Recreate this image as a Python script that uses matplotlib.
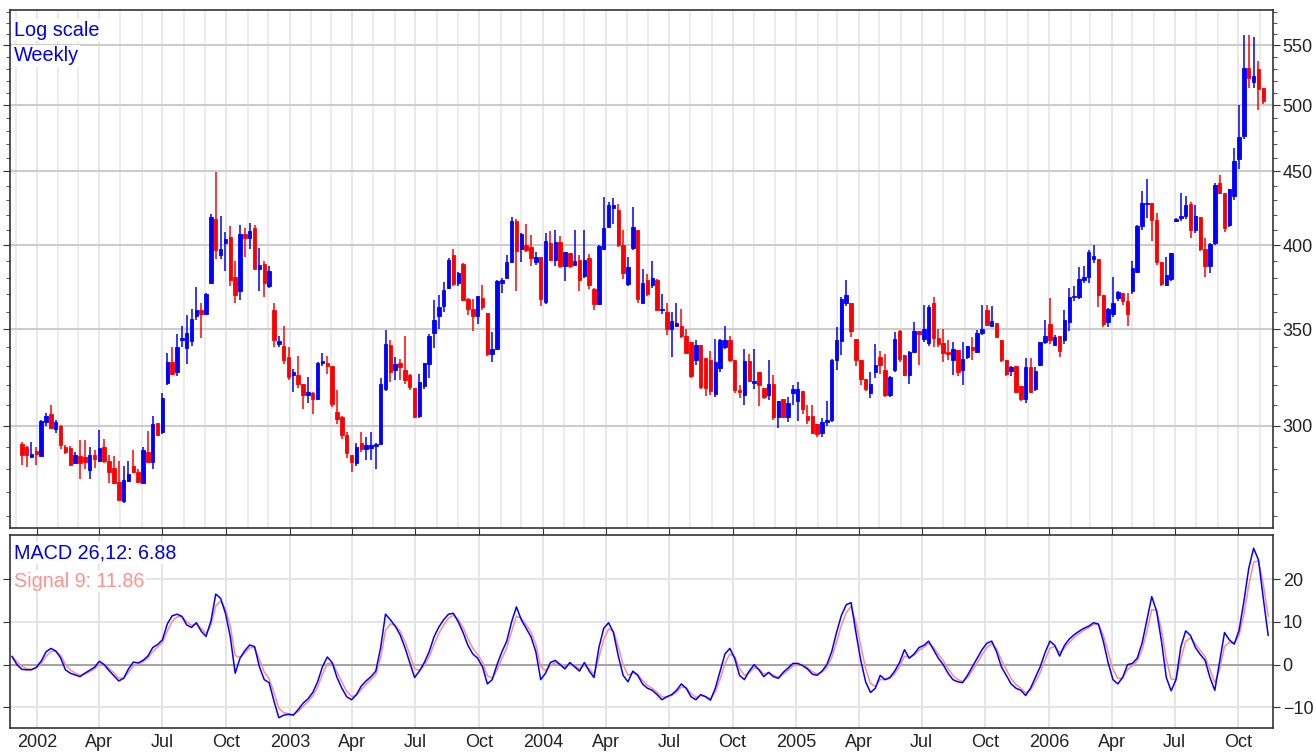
import matplotlib
matplotlib.use('Agg')
import matplotlib.pyplot as plt
import matplotlib.dates as mdates
import matplotlib.ticker as mticker
import numpy as np
import pandas as pd

plt.rcParams['font.family'] = ['Liberation Sans', 'DejaVu Sans']

# weekly candles, first week starting 2001-12-10
first_week = '2001-12-10'
opens = [
    291.4, 290.0, 285.5, 288.3, 286.2, 302.0, 305.8, 298.4, 300.0, 290.0,
    289.5, 283.0, 286.0, 285.7, 279.8, 286.3, 283.9, 290.0, 283.9, 280.6,
    274.6, 266.0, 275.0, 281.5, 278.6, 274.0, 287.6, 283.4, 301.3, 297.0,
    321.3, 332.3, 327.0, 344.0, 339.6, 343.3, 357.7, 360.7, 358.4, 376.6,
    417.0, 394.2, 401.7, 405.2, 380.2, 372.0, 407.3, 404.6, 411.0, 385.4,
    388.2, 375.0, 360.7, 342.0, 341.0, 335.0, 325.5, 325.3, 320.7, 315.0,
    316.0, 313.0, 331.5, 331.5, 330.0, 307.0, 304.5, 295.5, 286.5, 282.6,
    292.0, 289.3, 289.6, 290.5, 291.6, 318.0, 341.5, 328.0, 331.5, 328.0,
    325.3, 318.5, 304.8, 319.5, 331.0, 348.0, 357.6, 363.4, 373.7, 393.8,
    376.5, 388.5, 367.2, 361.5, 357.2, 367.8, 359.2, 336.6, 339.3, 377.0,
    380.0, 389.4, 416.0, 397.6, 400.0, 399.0, 389.6, 392.5, 365.4, 401.8,
    390.7, 402.0, 387.2, 395.4, 388.0, 390.6, 381.0, 392.0, 373.0, 364.2,
    397.6, 411.8, 424.6, 423.5, 400.0, 376.0, 398.4, 410.0, 365.0, 378.6,
    375.7, 378.6, 360.6, 359.5, 350.4, 352.0, 352.0, 346.0, 342.7, 333.1,
    341.3, 334.4, 333.0, 315.7, 329.0, 340.3, 343.9, 333.1, 317.6, 315.2,
    332.8, 321.4, 327.2, 318.7, 315.0, 321.0, 304.2, 313.0, 304.2, 316.0,
    312.0, 317.0, 305.0, 305.0, 301.0, 296.5, 302.0, 303.0, 333.5, 343.5,
    365.0, 365.0, 344.5, 333.5, 323.5, 316.0, 326.7, 334.6, 328.0, 315.0,
    328.0, 348.8, 335.7, 325.3, 337.3, 349.0, 344.7, 342.3, 364.8, 345.2,
    342.5, 337.5, 333.1, 338.8, 328.0, 334.8, 340.0, 337.5, 347.7, 361.0,
    352.0, 353.7, 344.0, 333.5, 327.5, 330.0, 319.7, 313.0, 329.3, 318.0,
    330.5, 343.0, 352.7, 341.5, 346.0, 343.9, 354.0, 368.2, 368.5, 378.6,
    380.3, 391.5, 391.5, 369.4, 354.0, 358.5, 367.8, 370.5, 366.0, 371.8,
    383.6, 412.6, 427.0, 428.0, 416.4, 389.3, 375.4, 379.2, 416.0, 418.0,
    419.3, 427.5, 410.0, 418.6, 397.6, 387.2, 401.7, 442.0, 435.0, 413.2,
    433.0, 459.0, 476.0, 530.7, 519.0, 529.4, 514.0,
]
highs = [
    292.6, 290.5, 292.6, 290.0, 303.0, 306.5, 310.0, 303.0, 300.3, 291.0,
    290.6, 288.0, 293.4, 293.4, 290.0, 288.8, 298.1, 294.0, 286.5, 286.0,
    283.5, 281.5, 283.5, 288.8, 280.0, 290.0, 297.4, 305.0, 301.6, 316.0,
    337.0, 340.0, 347.6, 352.0, 358.0, 361.5, 374.6, 364.8, 370.7, 420.3,
    449.8, 419.3, 408.4, 412.8, 390.4, 413.3, 411.2, 414.8, 413.0, 398.6,
    390.4, 387.0, 364.8, 346.0, 352.0, 340.0, 328.5, 335.5, 320.7, 324.4,
    316.6, 332.0, 337.0, 335.5, 330.0, 317.6, 305.0, 297.0, 286.5, 292.0,
    297.0, 295.0, 297.0, 292.0, 323.6, 349.7, 344.0, 335.0, 334.0, 346.3,
    326.0, 318.5, 326.0, 331.5, 347.6, 366.4, 369.5, 377.5, 392.0, 397.8,
    383.5, 389.0, 368.0, 367.0, 369.0, 375.7, 359.2, 348.7, 378.5, 380.0,
    394.0, 418.2, 417.0, 407.8, 413.6, 407.0, 396.0, 392.5, 407.8, 409.3,
    409.7, 406.0, 396.0, 395.4, 410.0, 393.7, 410.0, 394.4, 374.0, 400.0,
    432.0, 428.6, 431.5, 427.0, 410.0, 392.5, 425.0, 410.0, 385.0, 382.0,
    390.0, 379.0, 370.3, 364.8, 360.0, 365.0, 361.5, 350.4, 342.7, 343.9,
    341.3, 334.4, 338.0, 344.6, 344.5, 352.0, 346.3, 333.1, 320.0, 339.0,
    336.5, 339.0, 327.2, 318.7, 333.0, 325.3, 312.0, 313.0, 314.0, 320.0,
    322.0, 317.0, 310.0, 310.0, 301.0, 304.0, 312.0, 334.0, 351.0, 368.5,
    378.6, 365.0, 344.5, 333.5, 323.5, 327.0, 341.8, 338.0, 336.5, 324.8,
    348.6, 349.7, 335.7, 338.0, 354.0, 349.0, 364.0, 363.5, 368.5, 350.4,
    350.4, 343.9, 342.9, 338.8, 342.9, 341.0, 345.8, 349.3, 364.0, 363.5,
    363.3, 353.7, 344.0, 333.5, 330.0, 330.0, 319.7, 334.5, 334.2, 329.3,
    343.0, 355.0, 367.6, 347.0, 346.0, 360.7, 374.0, 375.0, 386.6, 387.0,
    397.0, 400.0, 391.5, 369.4, 362.0, 380.5, 372.0, 370.5, 370.5, 390.0,
    413.0, 436.0, 444.8, 428.0, 421.0, 389.3, 392.4, 395.4, 418.0, 435.0,
    433.0, 428.5, 426.5, 418.6, 404.5, 401.7, 442.0, 447.6, 435.0, 437.5,
    467.0, 500.0, 559.0, 559.0, 557.5, 537.0, 514.0,
]
lows = [
    282.0, 281.0, 285.0, 282.0, 286.0, 300.0, 298.6, 296.5, 289.0, 287.0,
    281.5, 282.7, 275.7, 280.0, 275.7, 280.6, 283.5, 283.0, 274.0, 273.7,
    266.8, 265.3, 274.6, 278.5, 274.0, 273.7, 283.0, 280.0, 295.2, 296.0,
    320.0, 325.5, 325.0, 340.0, 331.3, 341.0, 355.0, 345.0, 358.0, 376.0,
    391.5, 391.4, 384.2, 375.2, 364.9, 366.6, 392.4, 398.0, 385.0, 372.0,
    368.2, 374.0, 340.0, 340.0, 331.0, 323.0, 316.5, 318.6, 308.0, 311.0,
    306.0, 312.5, 330.0, 326.0, 309.0, 301.0, 294.0, 285.0, 279.0, 281.6,
    288.0, 284.0, 284.0, 280.0, 291.0, 317.0, 322.0, 323.0, 323.0, 321.0,
    317.6, 304.0, 304.0, 318.0, 324.0, 339.6, 350.0, 360.0, 373.0, 375.0,
    375.0, 366.0, 358.0, 349.0, 353.0, 361.0, 335.5, 332.0, 339.0, 371.0,
    379.5, 389.0, 372.0, 389.4, 396.0, 387.0, 388.0, 363.4, 364.3, 390.0,
    387.0, 386.0, 378.2, 386.0, 387.0, 372.0, 380.0, 373.0, 361.0, 364.0,
    397.0, 411.0, 414.0, 399.0, 379.0, 375.0, 397.0, 365.0, 365.0, 369.0,
    374.0, 360.7, 358.8, 347.0, 334.6, 351.0, 345.4, 337.0, 324.0, 330.7,
    318.0, 314.7, 315.0, 314.0, 327.0, 339.0, 332.0, 316.0, 313.7, 310.0,
    322.0, 318.0, 309.6, 313.0, 312.6, 303.0, 299.0, 304.0, 302.0, 310.0,
    302.6, 306.0, 301.0, 296.0, 295.0, 295.0, 300.0, 302.0, 328.0, 336.0,
    363.0, 345.5, 330.0, 320.0, 317.0, 313.8, 324.0, 326.0, 314.0, 314.0,
    327.0, 332.0, 325.0, 321.0, 337.0, 330.5, 343.0, 341.0, 340.0, 340.0,
    332.0, 333.0, 325.6, 325.0, 320.0, 334.0, 333.0, 337.0, 347.0, 352.0,
    351.0, 345.0, 332.0, 325.0, 325.0, 316.0, 312.0, 311.0, 316.0, 317.0,
    330.0, 342.0, 342.0, 341.0, 335.0, 342.0, 349.0, 366.0, 367.0, 377.0,
    376.6, 389.0, 362.6, 351.0, 351.0, 357.0, 366.0, 364.0, 352.0, 370.0,
    383.0, 410.0, 418.0, 403.0, 388.0, 375.0, 374.8, 378.0, 415.0, 416.0,
    417.0, 405.0, 408.0, 396.6, 380.4, 383.0, 400.0, 434.0, 408.4, 412.0,
    430.0, 452.0, 474.0, 514.0, 514.0, 496.0, 501.0,
]
closes = [
    286.5, 286.5, 287.0, 287.0, 302.6, 305.0, 299.0, 301.8, 291.0, 288.0,
    282.0, 286.5, 283.0, 283.4, 286.5, 284.6, 289.6, 283.5, 279.0, 274.0,
    266.8, 275.4, 278.0, 279.0, 274.6, 288.8, 283.4, 300.8, 295.5, 313.5,
    332.3, 326.0, 340.0, 345.0, 348.0, 356.0, 360.7, 358.4, 370.3, 418.2,
    397.0, 397.9, 404.0, 378.6, 369.4, 407.3, 404.6, 409.0, 385.4, 387.8,
    377.0, 384.0, 344.0, 343.6, 333.0, 324.4, 327.0, 320.7, 315.0, 316.6,
    313.0, 331.5, 332.5, 330.0, 310.5, 303.5, 295.5, 287.3, 283.4, 290.0,
    289.3, 291.2, 291.0, 291.6, 321.0, 341.9, 327.0, 331.0, 329.3, 323.0,
    319.3, 304.4, 322.0, 331.5, 346.3, 355.4, 362.4, 372.7, 390.8, 376.3,
    382.7, 366.8, 361.3, 357.2, 369.0, 362.4, 336.6, 339.3, 378.2, 378.6,
    389.4, 416.0, 396.6, 407.4, 397.0, 391.8, 392.8, 367.2, 403.0, 391.0,
    402.0, 387.0, 396.0, 387.2, 390.0, 378.6, 390.6, 375.4, 364.2, 399.3,
    411.4, 426.3, 426.3, 400.0, 382.7, 386.6, 412.0, 367.0, 376.5, 370.3,
    380.0, 361.0, 361.5, 350.4, 354.6, 353.5, 346.0, 337.0, 324.8, 341.3,
    319.0, 318.6, 317.0, 332.3, 344.2, 343.9, 333.1, 317.6, 316.5, 332.8,
    322.4, 322.4, 320.0, 314.2, 321.0, 304.2, 312.0, 304.2, 311.4, 318.4,
    318.0, 308.0, 303.0, 296.5, 296.0, 302.0, 303.0, 333.5, 343.9, 367.0,
    369.6, 349.0, 333.3, 323.5, 318.0, 320.9, 330.5, 330.6, 315.0, 324.2,
    344.4, 333.6, 325.3, 337.3, 349.0, 347.3, 349.9, 362.6, 344.9, 341.8,
    336.8, 336.2, 339.3, 327.0, 334.0, 340.5, 338.6, 347.7, 350.0, 352.6,
    354.5, 345.8, 333.1, 326.0, 329.3, 316.6, 313.3, 329.3, 316.6, 327.3,
    343.0, 346.3, 343.9, 345.8, 338.0, 355.4, 368.2, 369.2, 379.0, 380.3,
    396.0, 393.6, 369.4, 353.1, 361.3, 364.8, 371.3, 366.0, 358.5, 385.7,
    412.6, 428.0, 428.0, 416.5, 389.3, 376.2, 381.3, 395.4, 417.0, 419.3,
    426.5, 409.8, 419.3, 397.6, 387.2, 401.2, 440.5, 435.0, 411.2, 437.5,
    457.6, 475.3, 531.0, 522.4, 524.3, 513.3, 503.8,
]

# MACD line, one value per week from 2001-11-26
macd_start = '2001-11-26'
macd = [
    1.9, 0.0, -1.1, -1.2, -1.2, -0.6, 0.8, 3.0, 3.8, 3.2, 1.6, -1.2,
    -2.0, -2.4, -2.8, -2.0, -1.3, -0.6, 0.8, 0.0, -1.4, -2.6,
    -3.8, -3.2, -1.0, 0.6, 0.4, 1.0, 2.0, 4.0, 4.7, 5.8,
    9.5, 11.4, 11.8, 11.3, 9.3, 8.7, 9.8, 7.8, 6.6, 10.2,
    16.5, 15.5, 12.0, 6.5, -2.0, 1.5, 3.3, 4.6, 4.2, -0.5,
    -3.5, -4.2, -8.5, -12.4, -11.8, -11.6, -11.8, -10.5, -9.0, -8.0,
    -6.5, -4.0, -0.5, 1.8, 0.5, -3.0, -5.5, -7.5, -8.2, -7.0,
    -5.0, -3.8, -2.8, -1.5, 4.0, 11.8, 10.5, 9.0, 7.0, 4.0,
    0.5, -3.0, -1.5, 0.5, 3.0, 6.5, 8.8, 10.5, 11.8, 12.0,
    10.0, 7.5, 4.5, 2.5, 1.5, -0.5, -4.5, -3.5, 0.0, 3.0,
    5.5, 10.0, 13.5, 10.5, 8.5, 6.5, 3.0, -3.5, -2.0, 0.5,
    1.0, 0.0, -1.0, 0.5, -0.5, -1.5, 0.5, -1.5, -3.0, 4.0,
    8.5, 9.8, 7.5, 2.0, -2.5, -4.0, -1.5, -2.5, -4.5, -5.5,
    -6.0, -7.0, -8.2, -7.5, -7.0, -6.0, -4.5, -5.5, -7.5, -8.2,
    -7.0, -7.5, -8.3, -5.5, -1.5, 2.5, 3.8, 1.5, -2.5, -3.5,
    -1.5, 0.0, -1.2, -2.8, -1.8, -2.8, -3.2, -1.8, -0.8, 0.3,
    0.3, -0.2, -1.0, -2.2, -2.5, -1.5, 0.0, 3.0, 7.5, 11.5,
    14.0, 14.5, 7.5, 1.0, -4.0, -6.5, -5.5, -2.5, -3.5, -3.0,
    -1.5, 0.5, 3.5, 1.5, 2.5, 4.0, 4.5, 5.5, 3.5, 1.5,
    0.0, -2.0, -3.5, -4.0, -4.2, -2.5, -0.5, 1.5, 3.5, 5.0,
    5.5, 3.0, -0.5, -2.5, -4.5, -5.5, -6.0, -7.2, -5.5, -3.0,
    -0.5, 2.8, 5.5, 4.5, 2.0, 4.5, 6.0, 7.0, 7.8, 8.5,
    9.0, 9.8, 9.5, 5.5, 0.5, -3.5, -4.5, -3.0, 0.0, 0.3,
    1.5, 5.0, 10.5, 15.9, 12.5, 5.5, -3.0, -6.1, -3.5, 4.2,
    7.9, 6.8, 4.0, 2.4, 1.0, -3.0, -6.0, 0.8, 7.5, 5.8,
    4.8, 8.0, 14.8, 22.5, 27.2, 24.5, 15.5, 6.88,
]
macd_label = 'MACD 26,12: 6.88'
signal_label = 'Signal 9: 11.86'
price_ticks = [300, 350, 400, 450, 500, 550]
macd_ticks = [-10, 0, 10, 20]

dates = mdates.date2num(pd.date_range(first_week, periods=len(closes), freq='W-MON'))
mdates_macd = mdates.date2num(pd.date_range(macd_start, periods=len(macd), freq='W-MON'))
signal = pd.Series(macd).ewm(span=2.2, adjust=False).mean().values

o, h, l, c = (np.array(v) for v in (opens, highs, lows, closes))
cols = np.where(c >= o, '#0000ff', '#ff0000')

fig = plt.figure(figsize=(13.16, 7.52), dpi=100)
ax = fig.add_axes([10/1316, 1 - 528/752, 1263/1316, 518/752])
ax2 = fig.add_axes([10/1316, 1 - 728/752, 1263/1316, 193/752], sharex=ax)

# price panel
ax.set_yscale('log')
ax.vlines(dates, l, h, colors=cols, lw=1.1, zorder=3)
ax.bar(dates, np.abs(c - o), bottom=np.minimum(o, c), width=5.0,
       color=cols, edgecolor=cols, linewidth=0.6, zorder=4)
ax.set_ylim(255, 582)
ax.yaxis.set_major_locator(mticker.FixedLocator(price_ticks))
ax.yaxis.set_minor_locator(mticker.FixedLocator(range(260, 590, 10)))
ax.yaxis.set_major_formatter(mticker.FuncFormatter(lambda v, _: f'{v:.0f}'))
ax.yaxis.set_minor_formatter(mticker.NullFormatter())

xfmt = mticker.FuncFormatter(
    lambda v, _: str(mdates.num2date(v).year) if mdates.num2date(v).month == 1
    else mdates.num2date(v).strftime('%b'))
for a in (ax, ax2):
    a.xaxis.set_major_locator(mdates.MonthLocator(bymonth=[1, 4, 7, 10]))
    a.xaxis.set_minor_locator(mdates.MonthLocator())
    a.xaxis.set_major_formatter(xfmt)
    for s in a.spines.values():
        s.set_color('#333333')
        s.set_linewidth(1.2)
    a.tick_params(axis='y', which='both', left=True, right=True,
                  labelleft=False, labelright=True, direction='out',
                  labelsize=13, colors='#333333', labelcolor='#222222', pad=2)
    a.tick_params(axis='y', which='major', length=5)
    a.tick_params(axis='y', which='minor', length=3)
ax.set_xlim(mdates.datestr2num('2001-11-23'), mdates.datestr2num('2006-11-20'))

ax.grid(which='major', axis='y', color='#cccccc', lw=1.5, zorder=0)
ax.grid(which='minor', axis='x', color='#ebebeb', lw=1.3, zorder=0)
ax.grid(which='major', axis='x', color='#e6e6e6', lw=1.3, zorder=0)
ax.set_axisbelow(True)
ax.tick_params(axis='x', which='major', length=5, direction='out',
               labelbottom=False, colors='#333333')
ax.tick_params(axis='x', which='minor', length=0)

box = dict(facecolor='white', edgecolor='none', pad=1)
ax.text(0.003, 0.979, 'Log scale', transform=ax.transAxes, color='#0000ee',
        fontsize=14.3, ha='left', va='top', bbox=box, zorder=6)
ax.text(0.003, 0.930, 'Weekly', transform=ax.transAxes, color='#0000ee',
        fontsize=14.3, ha='left', va='top', bbox=box, zorder=6)

# MACD panel
ax2.axhline(0, color='#999999', lw=1.2, zorder=1)
ax2.plot(mdates_macd, signal, color='#ff8c8c', lw=1.1, zorder=2)
ax2.plot(mdates_macd, macd, color='#0000ff', lw=1.1, zorder=3)
ax2.set_ylim(-14.8, 30.3)
ax2.yaxis.set_major_locator(mticker.FixedLocator(macd_ticks))
ax2.yaxis.set_minor_locator(mticker.NullLocator())
ax2.grid(which='major', axis='both', color='#e2e2e2', lw=1.3, zorder=0)
ax2.set_axisbelow(True)
ax2.tick_params(axis='x', which='both', length=0, labelsize=13,
                labelcolor='#222222', pad=4)
ax2.text(0.003, 0.955, macd_label, transform=ax2.transAxes, color='#0000ee',
         fontsize=14.2, ha='left', va='top', bbox=box, zorder=6)
ax2.text(0.003, 0.81, signal_label, transform=ax2.transAxes, color='#ff9090',
         fontsize=14.2, ha='left', va='top', bbox=box, zorder=6)

fig.savefig('out.png', dpi=100, facecolor='white')
